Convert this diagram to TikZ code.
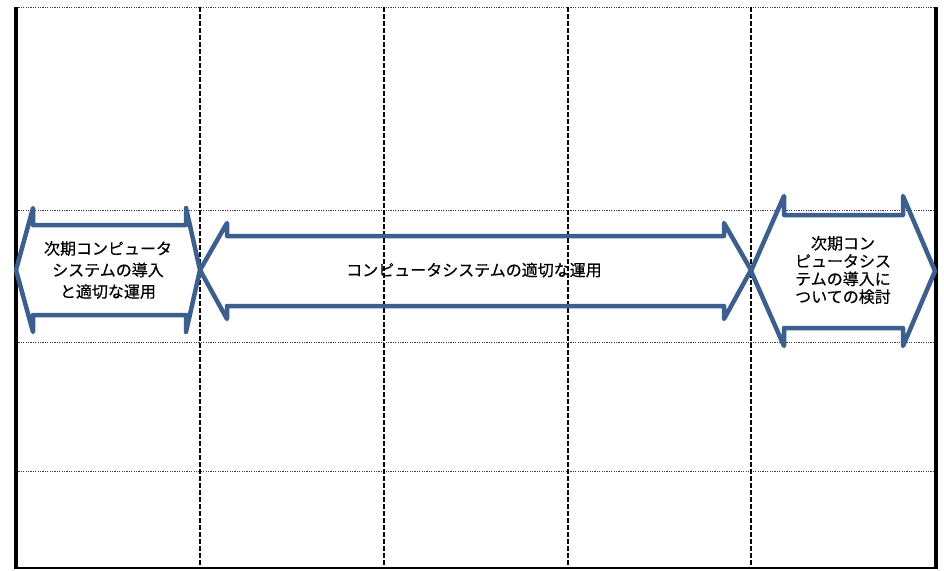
\documentclass[tikz,border=0pt]{standalone}
\usepackage{fontspec}
\newfontfamily\jp[FakeBold=0.4]{Noto Sans CJK JP}
\begin{document}
\begin{tikzpicture}[x=1pt,y=-1pt,
  frame/.style={line width=3.5pt},
  baseline/.style={line width=2pt},
  hgrid/.style={black!75,line width=0.9pt,dash pattern=on 1.2pt off 1.2pt},
  vgrid/.style={black,line width=1.6pt,dash pattern=on 4.5pt off 2.5pt},
  arrowline/.style={draw=arrowblue,line width=4.5pt,line join=round,line cap=round},
  label/.style={font=\jp\fontsize{16}{21.5}\selectfont,align=center,text=black,inner sep=0pt}]
\definecolor{arrowblue}{HTML}{3C5F8E}
\useasboundingbox (0,0) rectangle (944,570);
% grid
\foreach \y in {7,210,342,471} \draw[hgrid] (16,\y) -- (936,\y);
\foreach \x in {200,384,568,751} \draw[vgrid] (\x,7) -- (\x,568);
\draw[baseline] (15,567.5) -- (937,567.5);
\draw[frame] (16,7) -- (16,569);
\draw[frame] (936,7) -- (936,569);
% left double arrow
\draw[arrowline] (16,270) -- (33,208) -- (33,225) -- (186,225) -- (186,208) -- (200,270)
  -- (186,332) -- (186,315) -- (33,315) -- (33,332) -- cycle;
% middle double arrow
\draw[arrowline] (200,270) -- (227,223) -- (227,236) -- (724,236) -- (724,223) -- (751,270)
  -- (724,319) -- (724,306) -- (227,306) -- (227,319) -- cycle;
% right double arrow
\draw[arrowline] (751,271) -- (784,196) -- (784,215) -- (903,215) -- (903,196) -- (935,271)
  -- (903,346) -- (903,328) -- (784,328) -- (784,346) -- cycle;
% labels
\node[label] (lt) at (108,270) {次期コンピュータ\\システムの導入\\と適切な運用};
\node[label] (mt) at (474,270) {コンピュータシステムの適切な運用};
\node[label,font=\jp\fontsize{16}{17.8}\selectfont] (rt) at (843,270) {次期コン\\ピュータシス\\テムの導入に\\ついての検討};
\end{tikzpicture}
\end{document}
